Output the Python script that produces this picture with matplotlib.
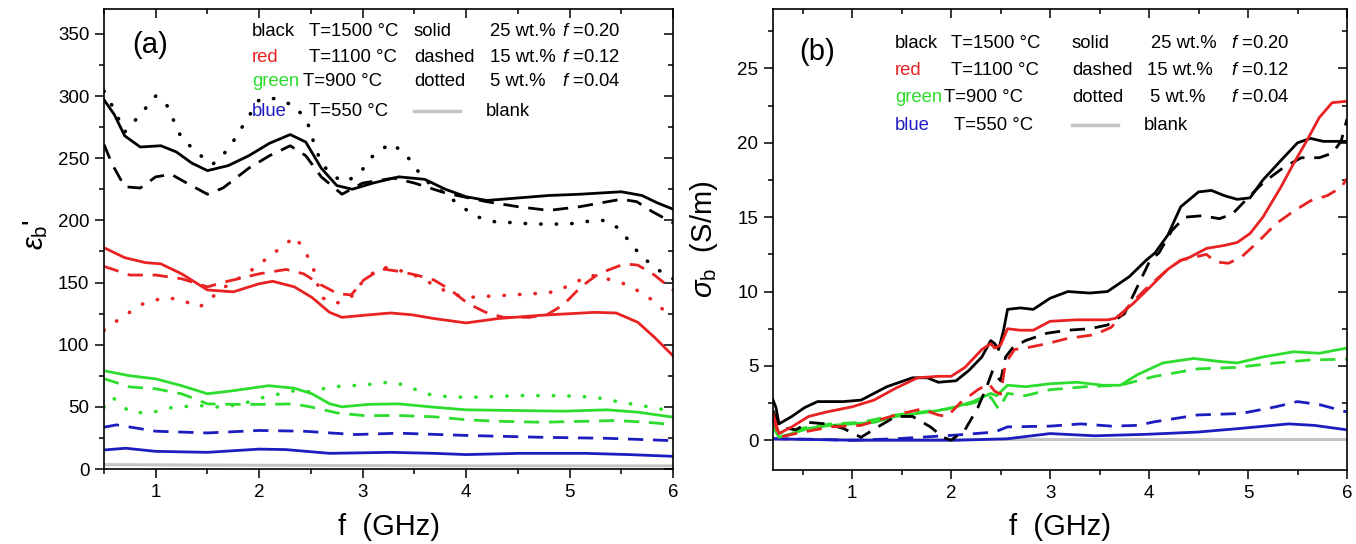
import matplotlib
matplotlib.use("Agg")
import matplotlib.pyplot as plt
from matplotlib.ticker import MultipleLocator

plt.rcParams["font.family"] = ["Liberation Sans", "DejaVu Sans"]
plt.rcParams["mathtext.fontset"] = "custom"
plt.rcParams["mathtext.rm"] = "Liberation Sans"
plt.rcParams["mathtext.it"] = "Liberation Sans:italic"

RED = "#e82222"
GREEN = "#2ddd2d"
BLUE = "#1c1cc0"
GREY = "#c4c4c4"

# ---------------- panel (a): eps_b' ----------------
a_blk_sol_x = [0.5, 0.6, 0.7, 0.85, 1.05, 1.2, 1.35, 1.5, 1.7, 1.9, 2.1, 2.3, 2.45, 2.6, 2.75, 2.9, 3.1, 3.35, 3.6, 3.8, 4.0, 4.2, 4.5, 4.8, 5.1, 5.5, 5.7, 5.85, 6.0]
a_blk_sol_y = [297, 285, 268, 259, 260, 255, 246, 240, 244, 252, 262, 269, 263, 242, 228, 225, 230, 235, 233, 225, 219, 216, 218, 220, 221, 223, 220, 214, 209]
a_blk_das_x = [0.5, 0.58, 0.7, 0.85, 1.0, 1.15, 1.3, 1.5, 1.65, 1.9, 2.1, 2.3, 2.45, 2.6, 2.8, 3.0, 3.3, 3.5, 3.8, 4.2, 4.5, 4.8, 5.1, 5.5, 5.65, 5.8, 6.0]
a_blk_das_y = [261, 245, 227, 226, 235, 237, 230, 221, 226, 242, 252, 260, 252, 235, 221, 230, 234, 230, 222, 215, 211, 208, 211, 217, 215, 207, 198]
a_blk_dot_x = [0.5, 0.6, 0.7, 0.85, 1.0, 1.1, 1.25, 1.45, 1.55, 1.7, 1.85, 2.0, 2.15, 2.35, 2.47, 2.53, 2.6, 2.72, 2.85, 3.0, 3.1, 3.27, 3.41, 3.52, 3.64, 3.79, 3.94, 4.1, 4.27, 4.48, 4.65, 4.82, 4.99, 5.15, 5.34, 5.49, 5.61, 5.74, 5.86, 6.0]
a_blk_dot_y = [304, 289, 271, 285, 300, 294, 266, 251, 245, 257, 277, 297, 298, 292, 278, 262, 246, 235, 231, 241, 252, 262, 254, 241, 230, 222, 212, 203, 199, 198, 197, 197, 197, 199, 200, 193, 179, 168, 160, 153]

a_red_sol_x = [0.5, 0.7, 0.9, 1.05, 1.25, 1.5, 1.75, 2.0, 2.13, 2.34, 2.51, 2.68, 2.8, 3.06, 3.27, 3.48, 3.69, 4.0, 4.31, 4.73, 5.24, 5.45, 5.66, 5.82, 6.0]
a_red_sol_y = [178, 170, 166, 165, 157, 144, 142.5, 149, 151, 146.5, 138, 126, 122, 124, 125.5, 124, 121, 117.5, 121, 123.7, 126, 125.5, 118, 106, 91]
a_red_das_x = [0.5, 0.75, 1.0, 1.25, 1.5, 1.67, 2.0, 2.26, 2.43, 2.6, 2.76, 2.89, 3.01, 3.18, 3.35, 3.52, 3.69, 3.85, 4.02, 4.19, 4.36, 4.61, 4.78, 4.94, 5.11, 5.28, 5.53, 5.66, 5.82, 6.0]
a_red_das_y = [163, 156, 156, 153, 146.5, 150.5, 157, 160.5, 157, 148, 141, 140, 152, 161, 159, 156, 152, 144, 133, 126, 122, 122, 124, 132, 146.5, 157, 165, 164, 156, 144]
a_red_dot_x = [0.5, 0.67, 0.88, 1.09, 1.25, 1.42, 1.55, 1.71, 1.88, 2.1, 2.35, 2.51, 2.6, 2.74, 2.89, 3.01, 3.18, 3.35, 3.54, 3.69, 3.85, 4.02, 4.23, 4.44, 4.65, 4.86, 5.03, 5.2, 5.36, 5.57, 5.78, 5.95, 6.0]
a_red_dot_y = [111.5, 122, 133, 138, 136, 130, 138.5, 149, 157, 171, 187, 165.5, 138, 133, 138.5, 152, 162.6, 160, 154.6, 148, 141, 138, 139, 140, 141, 142.5, 149, 156, 153, 148, 137, 125, 123]

a_grn_sol_x = [0.5, 0.75, 1.0, 1.25, 1.5, 1.75, 2.09, 2.34, 2.51, 2.68, 2.8, 3.06, 3.35, 3.69, 4.0, 4.52, 4.94, 5.36, 5.66, 6.0]
a_grn_sol_y = [79, 75, 72.5, 67, 60.5, 63, 67, 65, 60.5, 52.5, 50, 52, 52.4, 49.7, 47.6, 47, 46.5, 47.6, 45.7, 41.7]
a_grn_das_x = [0.5, 0.75, 1.0, 1.25, 1.5, 1.75, 2.09, 2.34, 2.51, 2.76, 3.01, 3.35, 3.69, 4.02, 4.31, 4.73, 5.15, 5.45, 5.74, 6.0]
a_grn_das_y = [72.6, 66, 64.5, 60.5, 52.4, 52, 52, 52.4, 49.7, 45, 43, 43, 42, 39.5, 38.4, 37.6, 38.4, 39, 37.6, 35.8]
a_grn_dot_x = [0.5, 0.58, 0.75, 0.94, 1.17, 1.42, 1.63, 1.84, 2.05, 2.34, 2.51, 2.68, 2.89, 3.06, 3.27, 3.43, 3.6, 3.85, 4.1, 4.52, 4.9, 5.24, 5.49, 5.7, 5.86, 6.0]
a_grn_dot_y = [49.7, 57.8, 45.7, 45, 49.7, 51, 49.7, 52.4, 57.8, 63, 62, 66, 67, 68, 70, 67, 60.5, 57.8, 57.8, 59, 59, 57.8, 53.8, 51, 48.4, 47]

a_blu_sol_x = [0.5, 0.71, 1.0, 1.5, 2.0, 2.26, 2.68, 3.27, 3.69, 4.0, 4.52, 5.15, 5.57, 6.0]
a_blu_sol_y = [15.3, 16.7, 14.2, 13.4, 16, 15.6, 12.6, 13.4, 12.6, 11.6, 12.6, 12.6, 11.6, 10.2]
a_blu_das_x = [0.5, 0.62, 1.0, 1.5, 2.0, 2.43, 2.93, 3.35, 4.0, 4.73, 5.36, 6.0]
a_blu_das_y = [33.6, 35.5, 30.4, 29, 31, 30.4, 27.7, 28.8, 27, 25.5, 24.7, 22.8]

a_blank_x = [0.5, 2.0, 4.0, 6.0]
a_blank_y = [3.5, 3.0, 2.5, 2.5]

# ---------------- panel (b): sigma_b ----------------
b_blk_sol_x = [0.2, 0.23, 0.26, 0.39, 0.52, 0.65, 0.91, 1.09, 1.35, 1.61, 1.76, 1.87, 2.05, 2.18, 2.31, 2.4, 2.44, 2.48, 2.53, 2.57, 2.7, 2.83, 3.0, 3.18, 3.4, 3.58, 3.8, 3.97, 4.06, 4.19, 4.32, 4.5, 4.63, 4.76, 4.89, 5.02, 5.15, 5.33, 5.5, 5.63, 5.76, 6.0]
b_blk_sol_y = [2.7, 2.2, 1.1, 1.6, 2.2, 2.6, 2.6, 2.7, 3.6, 4.2, 4.2, 3.9, 4.0, 4.7, 5.6, 6.7, 6.5, 6.1, 7.4, 8.8, 8.9, 8.8, 9.55, 10.0, 9.9, 10.0, 11.0, 12.1, 12.6, 13.8, 15.7, 16.7, 16.8, 16.45, 16.2, 16.3, 17.5, 18.8, 20.0, 20.3, 20.1, 20.1]
b_blk_das_x = [0.2, 0.26, 0.43, 0.56, 0.74, 0.91, 1.09, 1.26, 1.44, 1.61, 1.79, 1.92, 2.0, 2.14, 2.27, 2.36, 2.42, 2.46, 2.5, 2.55, 2.62, 2.75, 2.97, 3.18, 3.4, 3.58, 3.75, 3.88, 4.01, 4.1, 4.23, 4.36, 4.54, 4.71, 4.84, 4.97, 5.15, 5.37, 5.54, 5.72, 5.85, 5.94, 6.0]
b_blk_das_y = [2.0, 0.9, 0.7, 1.2, 1.1, 0.8, 0.2, 0.9, 1.6, 1.6, 0.9, 0.2, 0.0, 0.7, 2.2, 3.6, 4.7, 4.3, 4.0, 5.6, 6.2, 6.7, 7.2, 7.4, 7.5, 7.75, 8.5, 10.3, 12.1, 12.6, 14.1, 15.0, 15.1, 14.9, 15.2, 16.1, 17.3, 18.4, 19.0, 19.0, 19.3, 20.1, 21.6]

b_red_sol_x = [0.2, 0.26, 0.39, 0.56, 0.74, 1.0, 1.22, 1.44, 1.66, 1.87, 2.0, 2.14, 2.31, 2.4, 2.44, 2.5, 2.57, 2.7, 2.83, 3.0, 3.27, 3.58, 3.66, 3.84, 4.01, 4.19, 4.32, 4.41, 4.58, 4.76, 4.89, 5.02, 5.15, 5.33, 5.46, 5.59, 5.72, 5.85, 6.0]
b_red_sol_y = [1.8, 0.45, 0.9, 1.6, 1.9, 2.25, 2.7, 3.5, 4.2, 4.3, 4.3, 4.9, 6.1, 6.5, 6.2, 6.4, 7.5, 7.4, 7.4, 8.0, 8.1, 8.1, 8.2, 9.2, 10.3, 11.5, 12.1, 12.3, 12.9, 13.1, 13.3, 13.9, 15.0, 17.0, 18.6, 20.1, 21.7, 22.7, 22.8]
b_red_das_x = [0.2, 0.26, 0.43, 0.78, 1.09, 1.44, 1.7, 1.87, 1.96, 2.09, 2.27, 2.38, 2.44, 2.5, 2.55, 2.64, 2.75, 2.97, 3.18, 3.45, 3.62, 3.79, 3.97, 4.19, 4.32, 4.45, 4.58, 4.67, 4.8, 4.93, 5.11, 5.28, 5.46, 5.63, 5.8, 5.94, 6.0]
b_red_das_y = [1.6, 0.2, 0.45, 0.9, 1.0, 1.7, 2.1, 1.7, 1.6, 2.5, 3.4, 3.8, 3.3, 3.1, 5.2, 6.1, 6.2, 6.5, 6.85, 7.1, 7.6, 9.0, 10.2, 11.5, 12.1, 12.3, 12.5, 12.0, 11.9, 12.3, 13.4, 14.55, 15.4, 16.1, 16.45, 17.0, 17.6]

b_grn_sol_x = [0.2, 0.26, 0.39, 0.56, 0.78, 1.0, 1.22, 1.44, 1.66, 1.87, 2.05, 2.22, 2.4, 2.46, 2.57, 2.75, 3.0, 3.27, 3.53, 3.71, 3.88, 4.14, 4.45, 4.71, 4.89, 5.15, 5.46, 5.72, 6.0]
b_grn_sol_y = [0.9, 0.2, 0.45, 0.8, 1.0, 1.1, 1.2, 1.6, 1.8, 2.0, 2.25, 2.6, 3.15, 3.0, 3.7, 3.6, 3.8, 3.9, 3.7, 3.7, 4.4, 5.2, 5.5, 5.3, 5.2, 5.6, 5.95, 5.85, 6.2]
b_grn_das_x = [0.2, 0.26, 0.48, 0.78, 1.09, 1.44, 1.7, 1.96, 2.22, 2.4, 2.48, 2.57, 2.75, 3.0, 3.36, 3.71, 4.06, 4.49, 4.89, 5.28, 5.63, 6.0]
b_grn_das_y = [1.1, 0.45, 0.8, 1.1, 1.2, 1.7, 1.9, 2.1, 2.5, 2.9, 2.1, 3.15, 3.0, 3.4, 3.6, 3.7, 4.3, 4.8, 4.9, 5.2, 5.4, 5.45]

b_blu_sol_x = [0.2, 1.0, 2.05, 2.57, 3.0, 3.45, 3.97, 4.49, 4.93, 5.41, 5.67, 6.0]
b_blu_sol_y = [0.1, 0.0, 0.0, 0.1, 0.45, 0.3, 0.4, 0.55, 0.8, 1.1, 1.0, 0.7]
b_blu_das_x = [0.2, 0.56, 1.0, 1.44, 2.05, 2.44, 2.57, 3.0, 3.31, 3.62, 3.88, 4.06, 4.49, 4.93, 5.28, 5.5, 5.72, 6.0]
b_blu_das_y = [0.1, 0.07, 0.0, 0.1, 0.35, 0.55, 0.9, 0.95, 1.1, 0.95, 1.0, 1.25, 1.7, 1.8, 2.25, 2.6, 2.4, 1.9]

b_blank_x = [0.2, 3.0, 6.0]
b_blank_y = [0.1, 0.1, 0.1]

# legend-like text block
temps = ["T=1500 \u00b0C", "T=1100 \u00b0C", "T=900 \u00b0C", "T=550 \u00b0C"]
color_names = ["black", "red", "green", "blue"]
styles = ["solid", "dashed", "dotted"]
wt = ["25 wt.%", "15 wt.%", "5 wt.%"]
ffrac = [r"$f$ =0.20", r"$f$ =0.12", r"$f$ =0.04"]

SOLID = "-"
DASHED = (0, (5.5, 3.5))
DOTTED = (0, (0.1, 4.2))
cols = ["black", RED, GREEN, BLUE]

fig = plt.figure(figsize=(13.56, 5.44), dpi=100)
ax1 = fig.add_axes([104 / 1356, 1 - 469 / 544, 569 / 1356, 460 / 544])
ax2 = fig.add_axes([773 / 1356, 1 - 470 / 544, 574 / 1356, 461 / 544])


def draw(ax, x, y, c, ls):
    if ls == DOTTED:
        ax.plot(x, y, color=c, lw=2.6, ls=ls, dash_capstyle="round", solid_capstyle="round")
    else:
        ax.plot(x, y, color=c, lw=2.0, ls=ls)


# panel a
ax1.plot(a_blank_x, a_blank_y, color=GREY, lw=2.2)
draw(ax1, a_blu_das_x, a_blu_das_y, BLUE, DASHED)
draw(ax1, a_blu_sol_x, a_blu_sol_y, BLUE, SOLID)
draw(ax1, a_grn_dot_x, a_grn_dot_y, GREEN, DOTTED)
draw(ax1, a_grn_das_x, a_grn_das_y, GREEN, DASHED)
draw(ax1, a_grn_sol_x, a_grn_sol_y, GREEN, SOLID)
draw(ax1, a_red_dot_x, a_red_dot_y, RED, DOTTED)
draw(ax1, a_red_das_x, a_red_das_y, RED, DASHED)
draw(ax1, a_red_sol_x, a_red_sol_y, RED, SOLID)
draw(ax1, a_blk_dot_x, a_blk_dot_y, "black", DOTTED)
draw(ax1, a_blk_das_x, a_blk_das_y, "black", DASHED)
draw(ax1, a_blk_sol_x, a_blk_sol_y, "black", SOLID)

# panel b
ax2.plot(b_blank_x, b_blank_y, color=GREY, lw=2.2)
draw(ax2, b_blu_das_x, b_blu_das_y, BLUE, DASHED)
draw(ax2, b_blu_sol_x, b_blu_sol_y, BLUE, SOLID)
draw(ax2, b_grn_das_x, b_grn_das_y, GREEN, DASHED)
draw(ax2, b_grn_sol_x, b_grn_sol_y, GREEN, SOLID)
draw(ax2, b_blk_das_x, b_blk_das_y, "black", DASHED)
draw(ax2, b_blk_sol_x, b_blk_sol_y, "black", SOLID)
draw(ax2, b_red_das_x, b_red_das_y, RED, DASHED)
draw(ax2, b_red_sol_x, b_red_sol_y, RED, SOLID)

ax1.set_xlim(0.5, 6)
ax1.set_ylim(0, 370)
ax1.yaxis.set_major_locator(MultipleLocator(50))
ax1.yaxis.set_minor_locator(MultipleLocator(25))
ax2.set_xlim(0.2, 6)
ax2.set_ylim(-2, 29)
ax2.yaxis.set_major_locator(MultipleLocator(5))
ax2.yaxis.set_minor_locator(MultipleLocator(2.5))

for ax in (ax1, ax2):
    ax.xaxis.set_major_locator(MultipleLocator(1))
    ax.xaxis.set_minor_locator(MultipleLocator(0.5))
    for s in ax.spines.values():
        s.set_linewidth(1.2)
    ax.tick_params(which="both", direction="out", top=False, right=False, labelsize=13.5, width=1.1, pad=4)
    ax.tick_params(which="major", length=6.5)
    ax.tick_params(which="minor", length=3.5)
    # mirrored ticks on top / right point inward
    sec_x = ax.secondary_xaxis("top")
    sec_x.xaxis.set_major_locator(MultipleLocator(1))
    sec_x.xaxis.set_minor_locator(MultipleLocator(0.5))
    sec_x.tick_params(which="both", direction="in", labeltop=False, width=1.1)
    sec_x.tick_params(which="major", length=6.5)
    sec_x.tick_params(which="minor", length=3.5)
    sec_y = ax.secondary_yaxis("right")
    sec_y.yaxis.set_major_locator(ax.yaxis.get_major_locator())
    sec_y.yaxis.set_minor_locator(ax.yaxis.get_minor_locator())
    sec_y.tick_params(which="both", direction="in", labelright=False, width=1.1)
    sec_y.tick_params(which="major", length=6.5)
    sec_y.tick_params(which="minor", length=3.5)
    sec_x.spines["top"].set_visible(False)
    sec_y.spines["right"].set_visible(False)

ax1.set_xlabel("f  (GHz)", fontsize=21, va="center")
ax1.xaxis.set_label_coords(0.5, -0.126)
ax1.set_ylabel(r"$\varepsilon_{\rm b}$'", fontsize=21, va="center")
ax1.yaxis.set_label_coords(-0.12, 0.51)
ax2.set_xlabel("f  (GHz)", fontsize=21, va="center")
ax2.xaxis.set_label_coords(0.5, -0.124)
ax2.set_ylabel(r"$\sigma_{\rm b}$  (S/m)", fontsize=21, va="center")
ax2.yaxis.set_label_coords(-0.12, 0.5)

ax1.text((150 - 104) / 569, (469 - 45) / 460, "(a)", transform=ax1.transAxes, fontsize=21, ha="center", va="center")
ax2.text((817 - 773) / 574, (470 - 52) / 461, "(b)", transform=ax2.transAxes, fontsize=21, ha="center", va="center")


def text_block(ax, x0, x1, y0, rows, col_x, temp_x, blank_line):
    fs = 13.3
    tr = ax.transAxes
    ax_x = lambda px: (px - x0) / x1
    ax_y = lambda py: (y0 - py) / 460
    for i in range(4):
        ax.text(ax_x(col_x[0]), ax_y(rows[i]), color_names[i], color=cols[i], transform=tr, fontsize=fs, va="center")
        ax.text(ax_x(temp_x[i]), ax_y(rows[i]), temps[i], transform=tr, fontsize=fs, va="center")
    for i in range(3):
        ax.text(ax_x(col_x[1]), ax_y(rows[i]), styles[i], transform=tr, fontsize=fs, va="center")
        ax.text(ax_x(col_x[2][i]), ax_y(rows[i]), wt[i], transform=tr, fontsize=fs, va="center")
        ax.text(ax_x(col_x[3]), ax_y(rows[i]), ffrac[i], transform=tr, fontsize=fs, va="center")
    ax.plot([ax_x(blank_line[0]), ax_x(blank_line[1])], [ax_y(rows[3])] * 2, color=GREY, lw=2.5, transform=tr)
    ax.text(ax_x(blank_line[2]), ax_y(rows[3]), "blank", transform=tr, fontsize=fs, va="center")


text_block(ax1, 104, 569, 469, [32, 57, 81, 111], [252, 414, [490, 490, 490], 562], [309, 309, 303, 309], [414, 460, 486])
text_block(ax2, 773, 574, 470, [44, 71, 98, 126], [895, 1072, [1151, 1147, 1150], 1231], [951, 951, 944, 954], [1072, 1118, 1144])

fig.savefig("out.png", dpi=100)
